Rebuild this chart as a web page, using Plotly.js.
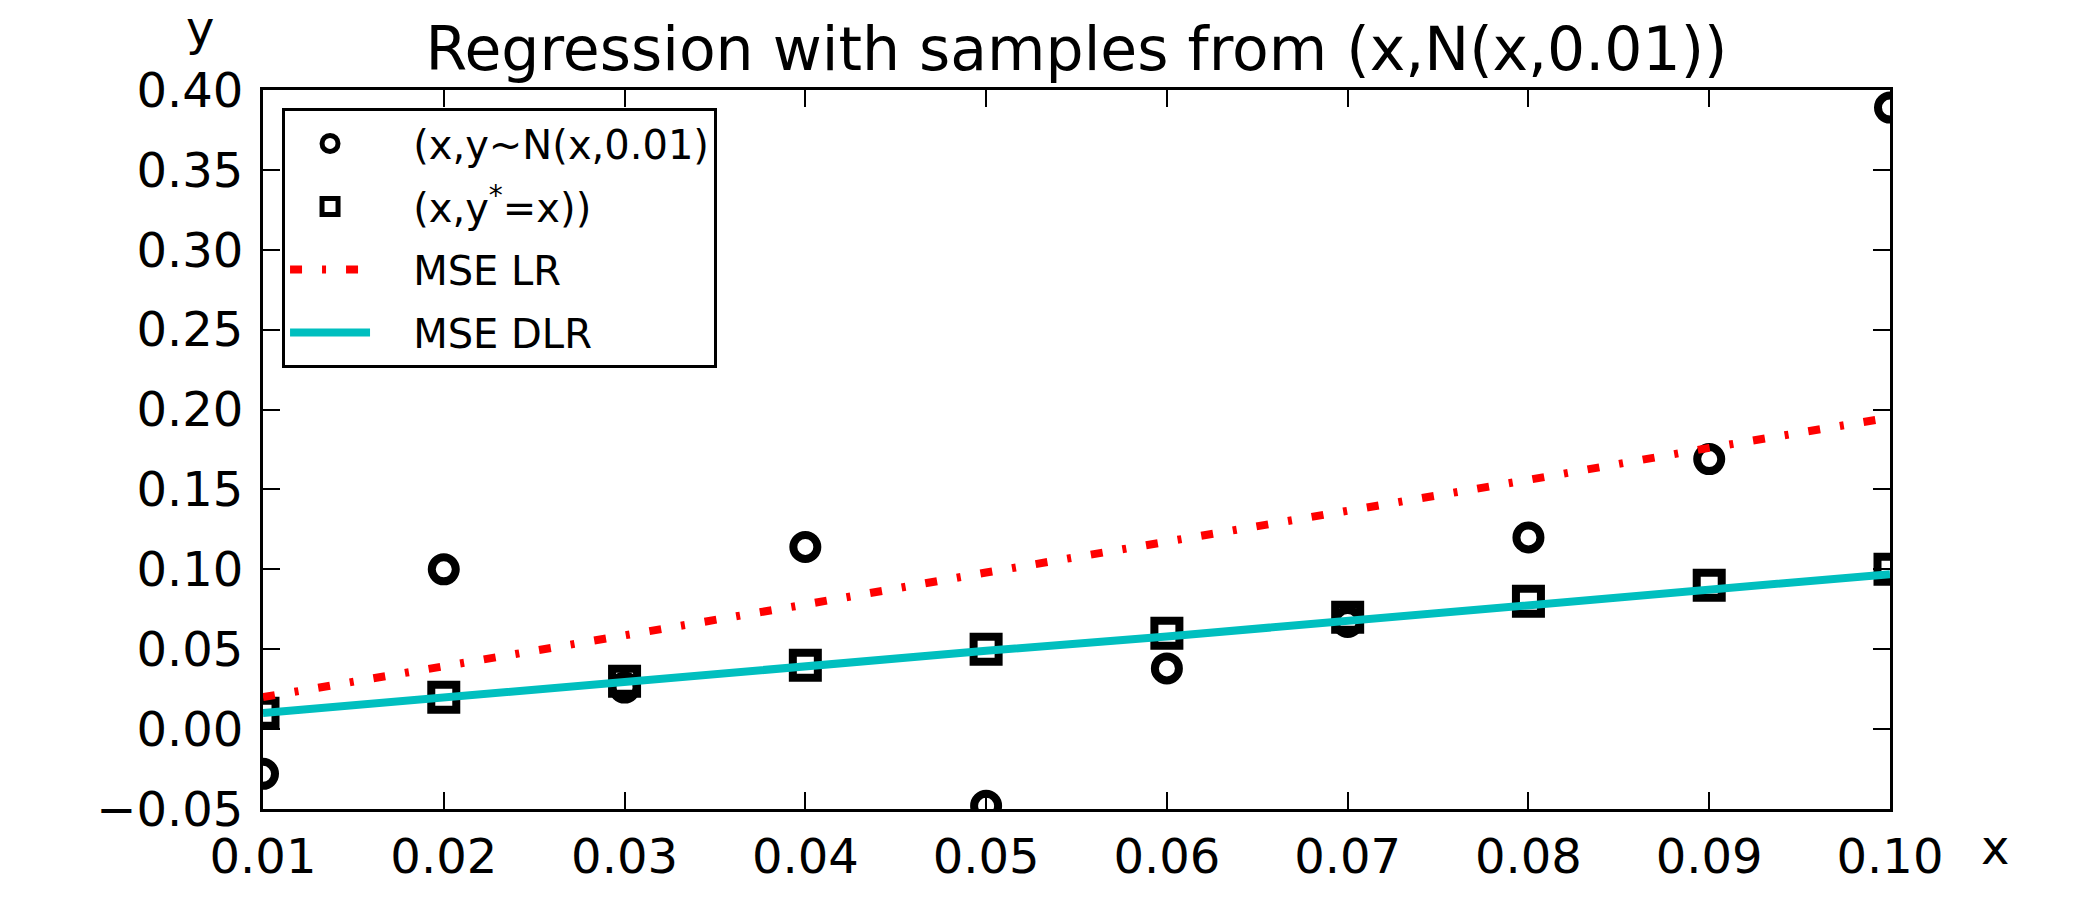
<!DOCTYPE html>
<html>
<head>
<meta charset="utf-8">
<script src="https://cdn.plot.ly/plotly-3.0.1.min.js"></script>
<style>html,body{margin:0;padding:0;background:#fff;}#chart{width:2100px;height:900px;}</style>
</head>
<body>
<div id="chart"></div>
<script>
// ---- data ----
var xValues = [0.01, 0.02, 0.03, 0.04, 0.05, 0.06, 0.07, 0.08, 0.09, 0.10];
var noisyY = [-0.028, 0.100, 0.026, 0.114, -0.048, 0.038, 0.067, 0.120, 0.169, 0.389];
var trueY = [0.01, 0.02, 0.03, 0.04, 0.05, 0.06, 0.07, 0.08, 0.09, 0.10];
var mseLR = [0.020, 0.039, 0.059, 0.078, 0.098, 0.117, 0.137, 0.156, 0.176, 0.195];
var mseDLR = [0.010, 0.020, 0.029, 0.039, 0.049, 0.058, 0.068, 0.078, 0.087, 0.097];
var seriesNames = ['(x,y~N(x,0.01)', '(x,y<sup>*</sup>=x))', 'MSE LR', 'MSE DLR'];
var xTicks = [0.01, 0.02, 0.03, 0.04, 0.05, 0.06, 0.07, 0.08, 0.09, 0.10];
var yTicks = [-0.05, 0.00, 0.05, 0.10, 0.15, 0.20, 0.25, 0.30, 0.35, 0.40];
var titleText = 'Regression with samples from (x,N(x,0.01))';
var xLabel = 'x';
var yLabel = 'y';

var FONT = 'DejaVu Sans, Bitstream Vera Sans, sans-serif';
var PAD = '\u00a0\u00a0\u00a0';

var traces = [
  {x: xValues, y: noisyY, name: PAD + seriesNames[0], type: 'scatter', mode: 'markers', legendgroup: 'a',
   marker: {symbol: 'circle-open', size: 24, color: '#000', line: {width: 8, color: '#000'}}},
  {x: xValues, y: trueY, name: PAD + seriesNames[1], type: 'scatter', mode: 'markers', legendgroup: 'b',
   marker: {symbol: 'square-open', size: 25, color: '#000', line: {width: 8, color: '#000'}}},
  {x: xValues, y: mseLR, name: PAD + seriesNames[2], type: 'scatter', mode: 'lines', legendgroup: 'c',
   line: {color: '#ff0000', width: 8, dash: '12px,20px,4px,20px'}},
  {x: xValues, y: mseDLR, name: PAD + seriesNames[3], type: 'scatter', mode: 'lines', legendgroup: 'd',
   line: {color: '#00bfbf', width: 8}}
];

var axisCommon = {
  showgrid: false, zeroline: false, showline: true, linecolor: '#000', linewidth: 3,
  mirror: 'ticks', ticks: 'inside', ticklen: 17, tickwidth: 2, tickcolor: '#000',
  tickfont: {family: FONT, size: 48, color: '#000'}, tickformat: '.2f'
};

var layout = {
  width: 2100, height: 900,
  margin: {l: 263, r: 210, t: 90, b: 91, pad: 0},
  paper_bgcolor: '#fff', plot_bgcolor: '#fff',
  font: {family: FONT, color: '#000'},
  title: {text: titleText, font: {family: FONT, size: 60, color: '#000'},
          x: 0.5, xref: 'paper', xanchor: 'center', y: 0.922, yref: 'container', yanchor: 'bottom'},
  xaxis: Object.assign({}, axisCommon, {range: [0.01, 0.10], tickmode: 'array', tickvals: xTicks, ticklabelstandoff: 3}),
  yaxis: Object.assign({}, axisCommon, {range: [-0.05, 0.40], tickmode: 'array', tickvals: yTicks, ticklabelstandoff: 7}),
  showlegend: true,
  legend: {x: 0.0117, y: 0.975, xanchor: 'left', yanchor: 'top', bgcolor: '#fff',
           bordercolor: '#000', borderwidth: 3, font: {family: FONT, size: 40, color: '#000'},
           traceorder: 'grouped', tracegroupgap: 8, itemwidth: 80, itemsizing: 'trace'},
  annotations: [
    {text: yLabel, xref: 'paper', yref: 'paper', x: -0.0387, y: 1.0, xanchor: 'center', yanchor: 'bottom',
     yshift: 32, showarrow: false, font: {family: FONT, size: 48, color: '#000'}},
    {text: xLabel, xref: 'paper', yref: 'paper', x: 1.0645, y: 0, xanchor: 'center', yanchor: 'top',
     yshift: -8, showarrow: false, font: {family: FONT, size: 48, color: '#000'}}
  ]
};

Plotly.newPlot('chart', traces, layout, {displayModeBar: false, staticPlot: true});
</script>
</body>
</html>
